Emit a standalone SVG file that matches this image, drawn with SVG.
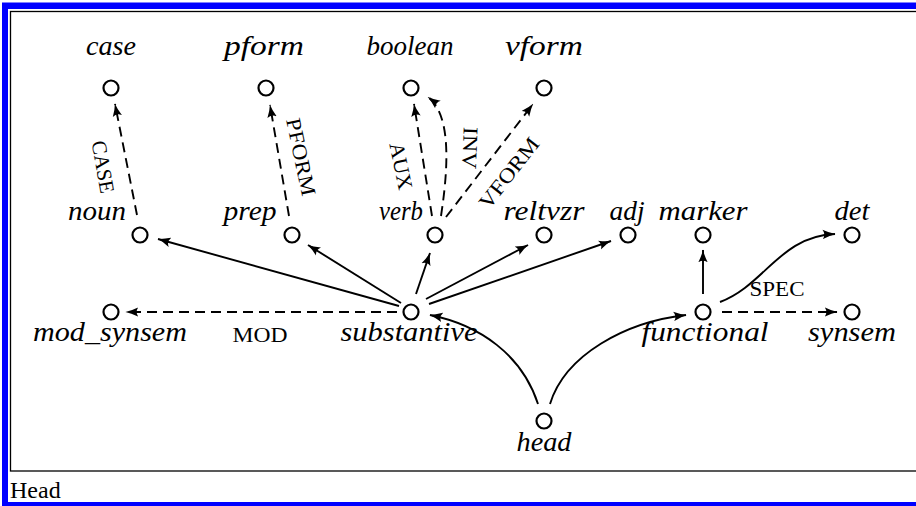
<svg xmlns="http://www.w3.org/2000/svg" width="916" height="506" viewBox="0 0 916 506">
<style>
.frame{fill:#0000ff}
.node{fill:#fff;stroke:#000;stroke-width:2.2}
.lbl{font-family:"Liberation Serif",serif;font-style:italic;font-size:27px;fill:#000;text-anchor:middle}
.cap{font-family:"Liberation Serif",serif;font-size:21px;fill:#000;text-anchor:middle}
.e{fill:none;stroke:#000;stroke-width:1.9}
.d{stroke-dasharray:10 6}
</style>
<defs>
<marker id="ah" markerUnits="userSpaceOnUse" markerWidth="13" markerHeight="10" viewBox="0 0 11 8" refX="10.5" refY="4" orient="auto">
<path d="M0,0 Q6,3 11,4 Q6,5 0,8 Q3,4 0,0 Z" fill="#000"/>
</marker>
</defs>
<rect x="0" y="0" width="916" height="506" fill="#fff"/>
<rect x="2" y="2" width="914" height="1" fill="#8080ff"/>
<rect class="frame" x="2" y="3" width="914" height="6"/>
<rect class="frame" x="2" y="3" width="6" height="503"/>
<rect class="frame" x="2" y="502" width="914" height="4"/>
<rect x="10.5" y="11.5" width="920" height="459.5" fill="none" stroke="#000" stroke-width="1.3"/>
<text x="10" y="498" font-family="Liberation Serif, serif" font-size="24" fill="#000">Head</text>

<g id="connectors">
<path class="e d" d="M137,215 L115,104" marker-end="url(#ah)"/>
<path class="e d" d="M289,216 L270,105" marker-end="url(#ah)"/>
<path class="e d" d="M432,216 L414,104" marker-end="url(#ah)"/>
<path class="e d" d="M441,216 C448,170 452,115 428,97" marker-end="url(#ah)"/>
<path class="e d" d="M446,217 L533,104" marker-end="url(#ah)"/>
<path class="e" d="M399,306 L158,239" marker-end="url(#ah)"/>
<path class="e" d="M401,303 L308,245" marker-end="url(#ah)"/>
<path class="e" d="M416,294 L430,253" marker-end="url(#ah)"/>
<path class="e" d="M426,299 L528,245" marker-end="url(#ah)"/>
<path class="e" d="M429,304 L611,241" marker-end="url(#ah)"/>
<path class="e d" d="M397,312 L126,312" marker-end="url(#ah)"/>
<path class="e" d="M538,404 C522,355 480,325 430,315" marker-end="url(#ah)"/>
<path class="e" d="M550,404 C565,355 625,322 686,315" marker-end="url(#ah)"/>
<path class="e" d="M703,294 L703,250" marker-end="url(#ah)"/>
<path class="e" d="M720,302 C765,285 780,236 835,234" marker-end="url(#ah)"/>
<path class="e d" d="M722,312 L837,312" marker-end="url(#ah)"/>
<text class="cap" transform="translate(103,167) rotate(80)" dy="7" textLength="53" lengthAdjust="spacingAndGlyphs">CASE</text>
<text class="cap" transform="translate(301,157) rotate(78)" dy="7" textLength="79" lengthAdjust="spacingAndGlyphs">PFORM</text>
<text class="cap" transform="translate(401,166) rotate(78)" dy="7" textLength="48" lengthAdjust="spacingAndGlyphs">AUX</text>
<text class="cap" transform="translate(470,148) rotate(92)" dy="7" textLength="42" lengthAdjust="spacingAndGlyphs">INV</text>
<text class="cap" transform="translate(509,173) rotate(-52)" dy="7" textLength="84" lengthAdjust="spacingAndGlyphs">VFORM</text>
<text class="cap" x="260" y="342" textLength="55" lengthAdjust="spacingAndGlyphs">MOD</text>
<text class="cap" x="777" y="296" textLength="55" lengthAdjust="spacingAndGlyphs">SPEC</text>
</g>

<g id="case"><circle class="node" cx="111" cy="88" r="7.5"/><text class="lbl" x="111" y="55" textLength="50" lengthAdjust="spacingAndGlyphs">case</text></g>
<g id="pform"><circle class="node" cx="266" cy="88" r="7.5"/><text class="lbl" x="264" y="55" textLength="80" lengthAdjust="spacingAndGlyphs">pform</text></g>
<g id="boolean"><circle class="node" cx="411" cy="88" r="7.5"/><text class="lbl" x="410" y="55" textLength="87" lengthAdjust="spacingAndGlyphs">boolean</text></g>
<g id="vform"><circle class="node" cx="544" cy="88" r="7.5"/><text class="lbl" x="544" y="55" textLength="78" lengthAdjust="spacingAndGlyphs">vform</text></g>
<g id="noun"><circle class="node" cx="140" cy="235" r="7.5"/><text class="lbl" x="97" y="220" textLength="58" lengthAdjust="spacingAndGlyphs">noun</text></g>
<g id="prep"><circle class="node" cx="292" cy="235" r="7.5"/><text class="lbl" x="250" y="220" textLength="53" lengthAdjust="spacingAndGlyphs">prep</text></g>
<g id="verb"><circle class="node" cx="435" cy="235" r="7.5"/><text class="lbl" x="401" y="220" textLength="44" lengthAdjust="spacingAndGlyphs">verb</text></g>
<g id="reltvzr"><circle class="node" cx="544" cy="235" r="7.5"/><text class="lbl" x="544" y="220" textLength="81" lengthAdjust="spacingAndGlyphs">reltvzr</text></g>
<g id="adj"><circle class="node" cx="628" cy="235" r="7.5"/><text class="lbl" x="627" y="220" textLength="35" lengthAdjust="spacingAndGlyphs">adj</text></g>
<g id="marker"><circle class="node" cx="703" cy="235" r="7.5"/><text class="lbl" x="703" y="220" textLength="89" lengthAdjust="spacingAndGlyphs">marker</text></g>
<g id="det"><circle class="node" cx="852" cy="235" r="7.5"/><text class="lbl" x="852" y="220" textLength="35" lengthAdjust="spacingAndGlyphs">det</text></g>
<g id="mod_synsem"><circle class="node" cx="111" cy="312" r="7.5"/><text class="lbl" x="110" y="341" textLength="154" lengthAdjust="spacingAndGlyphs">mod_synsem</text></g>
<g id="substantive"><circle class="node" cx="411" cy="312" r="7.5"/><text class="lbl" x="409" y="341" textLength="137" lengthAdjust="spacingAndGlyphs">substantive</text></g>
<g id="functional"><circle class="node" cx="703" cy="312" r="7.5"/><text class="lbl" x="705" y="341" textLength="127" lengthAdjust="spacingAndGlyphs">functional</text></g>
<g id="synsem"><circle class="node" cx="852" cy="312" r="7.5"/><text class="lbl" x="852" y="341" textLength="88" lengthAdjust="spacingAndGlyphs">synsem</text></g>
<g id="head"><circle class="node" cx="544" cy="421" r="7.5"/><text class="lbl" x="544" y="451" textLength="55" lengthAdjust="spacingAndGlyphs">head</text></g>
</svg>
